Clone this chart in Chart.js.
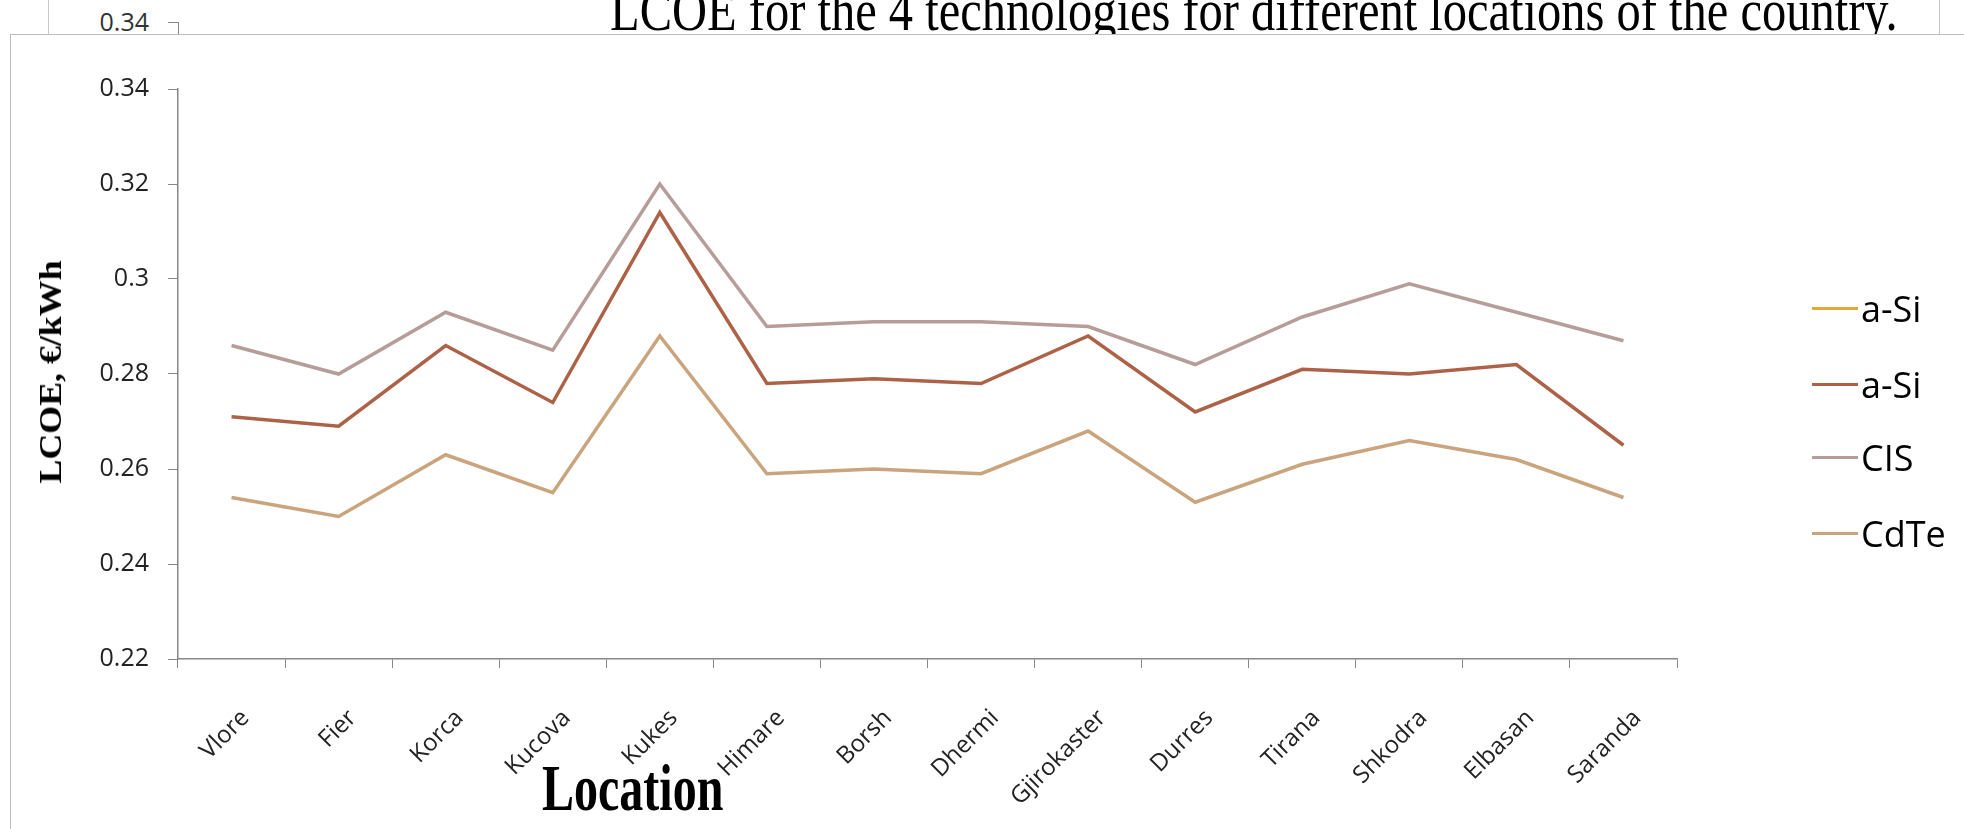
<!DOCTYPE html>
<html>
<head>
<meta charset="utf-8">
<script src="https://cdn.jsdelivr.net/npm/chart.js@4.4.1/dist/chart.umd.min.js"></script>
<style>
    body { margin: 0; background: #fff; }
    #stage { position: relative; width: 1964px; height: 829px; overflow: hidden; background: #fff; }
    #back-panel { position: absolute; left: 48px; top: -60px; width: 1890px; height: 200px; border: 1px solid #c8c8c8; background: #fff; }
    #back-title { position: absolute; left: 610px; top: -11px; font-family: "Liberation Serif", serif; font-size: 48.5px; line-height: 49px; white-space: nowrap; color: #000; transform: scaleY(1.2); transform-origin: 0 41px; }
    #back-tick-label { position: absolute; right: calc(1964px - 149px); top: 4px; font-family: "Open Sans", sans-serif; font-size: 25px; color: #333; }
    #back-tick { position: absolute; left: 168px; top: 22px; width: 10px; height: 14px; border-top: 1px solid #888; border-right: 1px solid #888; }
    #front-panel { position: absolute; left: 10px; top: 34px; width: 1990px; height: 820px; border: 1px solid #bdbdbd; background: #fff; }
    canvas { position: absolute; left: 0; top: 0; }
    .serif-title { position: absolute; font-family: "Liberation Serif", serif; font-weight: bold; color: #000; white-space: nowrap; }
    #x-title { left: 542px; top: 755px; font-size: 48px; line-height: 48px; transform: scaleY(1.38); transform-origin: 0 0; }
    #y-title { left: 50px; top: 372px; font-size: 32px; line-height: 32px; transform: translate(-50%, -50%) rotate(-90deg) scaleX(1.12); }
    #legend { position: absolute; left: 0; top: 0; }
    .legend-item { position: absolute; display: flex; align-items: center; font-family: "Open Sans", sans-serif; font-size: 36px; color: #000; white-space: nowrap; }
    .legend-line { width: 46px; height: 3px; margin-right: 3px; }
</style>
</head>
<body>
<div id="stage">
    <div id="back-panel"></div>
    <div id="back-title">LCOE for the 4 technologies for different locations of the country.</div>
    <div id="back-tick-label">0.34</div>
    <div id="back-tick"></div>
    <div id="front-panel"></div>
    <canvas id="lcoe-chart" width="1964" height="829"></canvas>
    <div id="y-title" class="serif-title">LCOE, €/kWh</div>
    <div id="x-title" class="serif-title">Location</div>
    <div id="legend"></div>
</div>

<script>
// Locations along the x axis
const locations = ['Vlore', 'Fier', 'Korca', 'Kucova', 'Kukes', 'Himare', 'Borsh',
    'Dhermi', 'Gjirokaster', 'Durres', 'Tirana', 'Shkodra', 'Elbasan', 'Saranda'];

// LCOE per technology, €/kWh
const aSiFirst = []; // listed in the legend, no points plotted
const aSi = [0.271, 0.269, 0.286, 0.274, 0.314, 0.278, 0.279, 0.278, 0.288, 0.272, 0.281, 0.280, 0.282, 0.265];
const cis = [0.286, 0.280, 0.293, 0.285, 0.320, 0.290, 0.291, 0.291, 0.290, 0.282, 0.292, 0.299, 0.293, 0.287];
const cdte = [0.254, 0.250, 0.263, 0.255, 0.288, 0.259, 0.260, 0.259, 0.268, 0.253, 0.261, 0.266, 0.262, 0.254];

// Y axis range and step
const yMin = 0.22;
const yMax = 0.34;
const yStep = 0.02;

const series = [
    { label: 'a-Si', data: aSiFirst, color: '#e6a738' },
    { label: 'a-Si', data: aSi, color: '#ad6248' },
    { label: 'CIS', data: cis, color: '#b69d99' },
    { label: 'CdTe', data: cdte, color: '#c9a47c' }
];

const axisColor = '#888888';

const ctx = document.getElementById('lcoe-chart').getContext('2d');
const chart = new Chart(ctx, {
    type: 'line',
    data: {
        labels: locations,
        datasets: series.map(s => ({
            label: s.label,
            data: s.data,
            borderColor: s.color,
            backgroundColor: s.color,
            borderWidth: 3.5,
            pointRadius: 0,
            tension: 0,
            fill: false
        }))
    },
    options: {
        responsive: false,
        devicePixelRatio: 1,
        animation: false,
        layout: { padding: { left: 0, top: 89, right: 287, bottom: 0 } },
        plugins: {
            legend: { display: false },
            tooltip: { enabled: false }
        },
        scales: {
            x: {
                offset: true,
                grid: { offset: true, drawOnChartArea: false, drawTicks: true, tickLength: 9, color: axisColor },
                border: { color: axisColor, width: 1.5 },
                ticks: {
                    autoSkip: false,
                    maxRotation: 45,
                    minRotation: 45,
                    padding: 36,
                    labelOffset: 14,
                    color: '#222',
                    font: { family: 'Open Sans', size: 24 }
                },
                afterFit: scale => { scale.height = 170; }
            },
            y: {
                min: yMin,
                max: yMax,
                grid: { drawOnChartArea: false, drawTicks: true, tickLength: 10, color: axisColor },
                border: { color: axisColor, width: 1.5 },
                ticks: {
                    stepSize: yStep,
                    padding: 19,
                    color: '#222',
                    font: { family: 'Open Sans', size: 25 },
                    callback: value => String(+value.toFixed(2))
                },
                afterFit: scale => { scale.width = 178; }
            }
        }
    }
});

// Legend on the right, built from the same series list
const legendTops = [308, 384, 457, 533];
const legendBox = document.getElementById('legend');
series.forEach((s, i) => {
    const item = document.createElement('div');
    item.className = 'legend-item';
    item.style.left = '1812px';
    item.style.top = (legendTops[i] - 24) + 'px';
    item.style.height = '48px';
    item.innerHTML = `<span class="legend-line" style="background:${s.color}"></span><span>${s.label}</span>`;
    legendBox.appendChild(item);
});
</script>
</body>
</html>
